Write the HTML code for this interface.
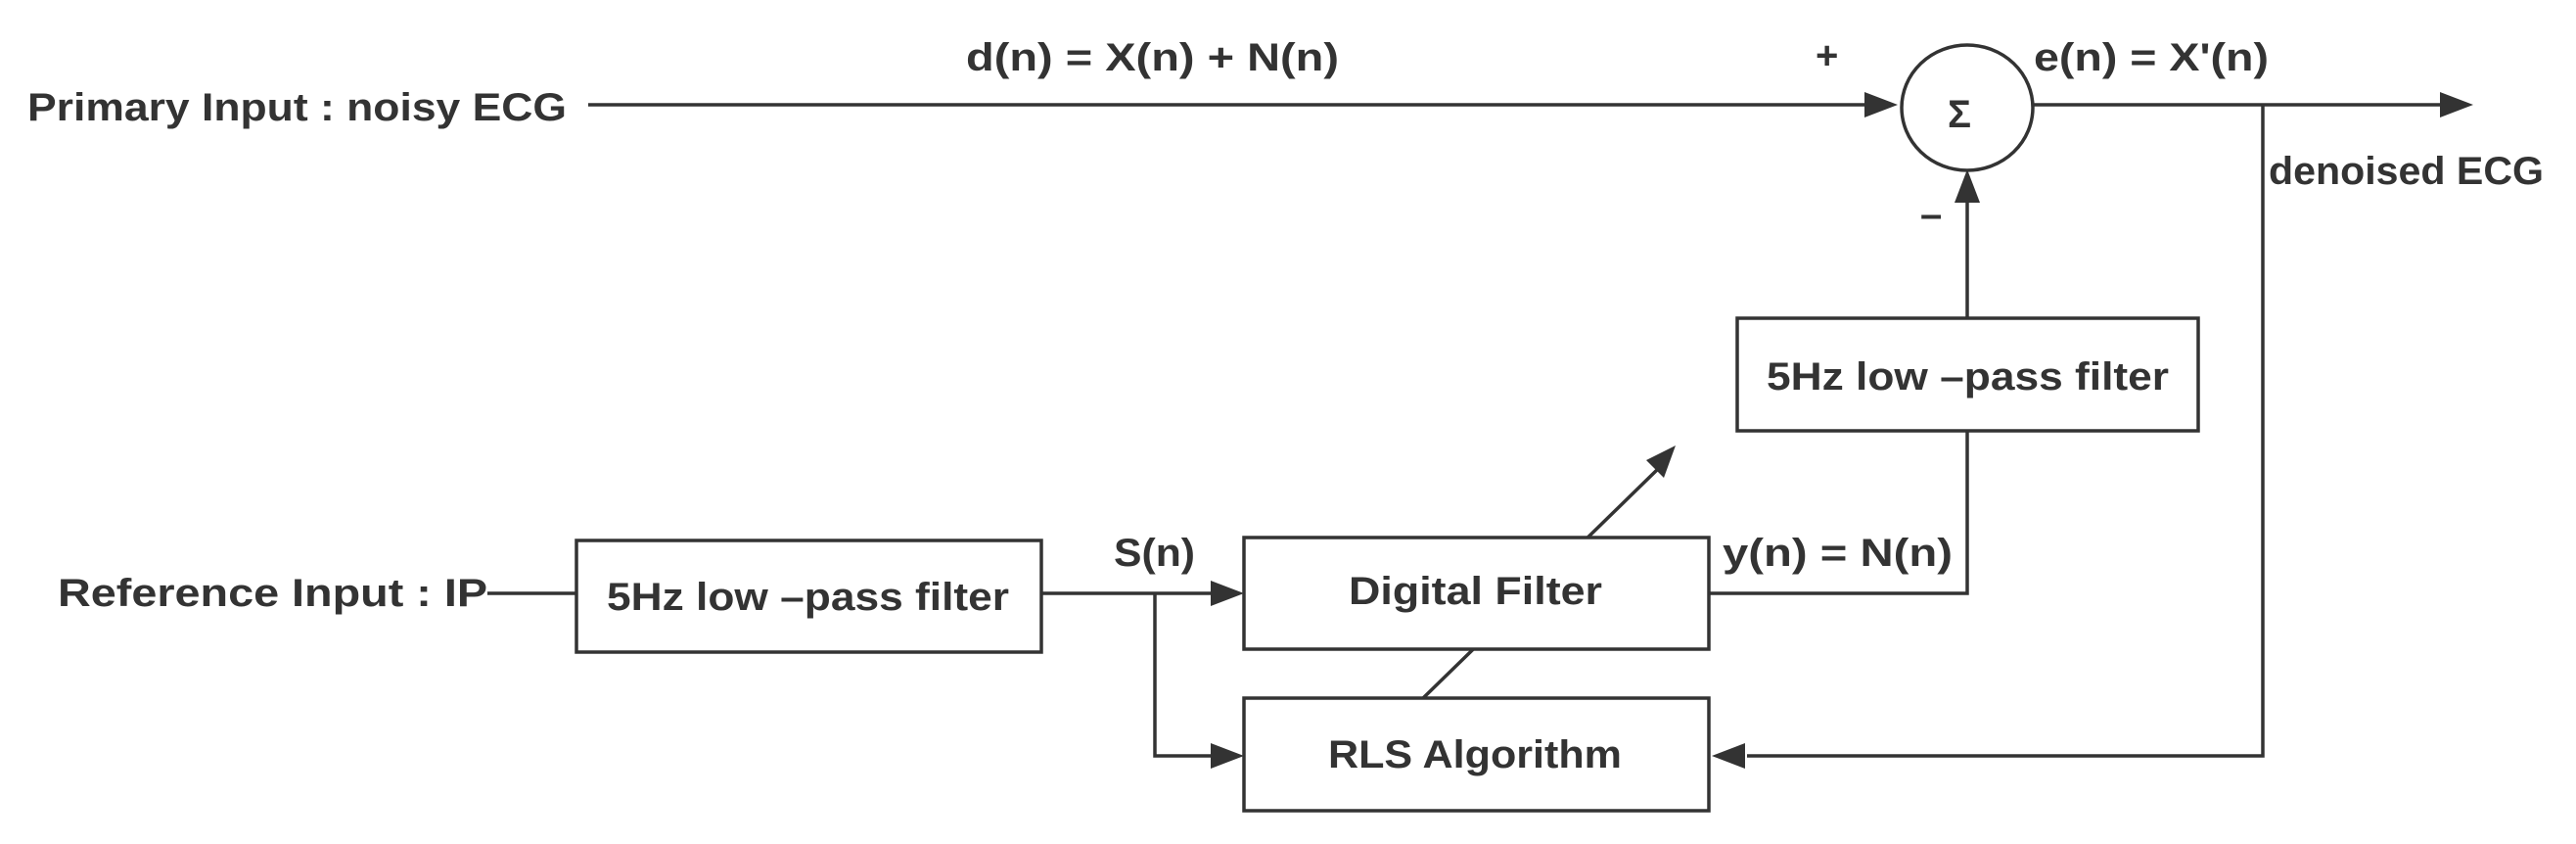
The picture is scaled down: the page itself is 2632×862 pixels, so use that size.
<!DOCTYPE html>
<html><head><meta charset="utf-8"><style>
html,body{margin:0;padding:0;background:#fff;}
svg{display:block;}
text{font-family:"Liberation Sans",sans-serif;font-weight:bold;fill:#333;font-size:40px;}
</style></head><body>
<svg width="2632" height="862" viewBox="0 0 2632 862" xmlns="http://www.w3.org/2000/svg">
<defs>
<marker id="a" markerWidth="10" markerHeight="10" refX="9" refY="5" orient="auto" markerUnits="userSpaceOnUse" viewBox="0 0 10 10">
</marker>
</defs>
<g stroke="#333" stroke-width="3.5" fill="none">
<!-- primary line -->
<line x1="601" y1="107" x2="1910" y2="107"/>
<!-- output -->
<line x1="2078" y1="107" x2="2495" y2="107"/>
<!-- feedback -->
<polyline points="2312,107 2312,772 1785,772"/>
<!-- top LPF to sum -->
<line x1="2010" y1="325" x2="2010" y2="205"/>
<!-- y(n) -->
<polyline points="1746,606 2010,606 2010,440"/>
<!-- ref -->
<line x1="498" y1="606" x2="589" y2="606"/>
<line x1="1064" y1="606" x2="1240" y2="606"/>
<polyline points="1180,606 1180,772 1240,772"/>
<!-- diagonal -->
<line x1="1454" y1="713" x2="1695" y2="478"/>
</g>
<g fill="#333">
<polygon points="1939,107 1905,94 1905,120"/>
<polygon points="2527,107 2493,94 2493,120"/>
<polygon points="1749,772 1783,759 1783,785"/>
<polygon points="2010,173 1997,207 2023,207"/>
<polygon points="1271,606 1237,593 1237,619"/>
<polygon points="1271,772 1237,759 1237,785"/>
<polygon points="1712,455 1682,470 1700,488"/>
</g>
<g stroke="#333" stroke-width="3.5" fill="#fff">
<ellipse cx="2010" cy="110" rx="67" ry="64"/>
<rect x="1775" y="325" width="471" height="115"/>
<rect x="1271" y="549" width="475" height="114"/>
<rect x="1271" y="713" width="475" height="115"/>
<rect x="589" y="552" width="475" height="114"/>
</g>
<text x="28" y="123" textLength="551" lengthAdjust="spacingAndGlyphs">Primary Input  : noisy ECG</text>
<text x="987" y="72" textLength="381" lengthAdjust="spacingAndGlyphs">d(n) = X(n) + N(n)</text>
<text x="1855" y="70" font-size="34">+</text>
<text x="2078" y="72" textLength="240" lengthAdjust="spacingAndGlyphs">e(n) = X'(n)</text>
<text x="2318" y="188" textLength="281" lengthAdjust="spacingAndGlyphs">denoised ECG</text>
<text x="1962" y="232" font-size="40">–</text>
<text x="1990" y="130" font-size="52" font-weight="normal">Σ</text>
<text x="1805" y="398" textLength="411" lengthAdjust="spacingAndGlyphs">5Hz low –pass filter</text>
<text x="59" y="619" textLength="439" lengthAdjust="spacingAndGlyphs">Reference Input  :  IP</text>
<text x="620" y="623" textLength="411" lengthAdjust="spacingAndGlyphs">5Hz low –pass filter</text>
<text x="1138" y="578" textLength="83" lengthAdjust="spacingAndGlyphs">S(n)</text>
<text x="1378" y="617" textLength="259" lengthAdjust="spacingAndGlyphs">Digital Filter</text>
<text x="1760" y="578" textLength="235" lengthAdjust="spacingAndGlyphs">y(n) = N(n)</text>
<text x="1357" y="784" textLength="300" lengthAdjust="spacingAndGlyphs">RLS Algorithm</text>
</svg>
</body></html>
